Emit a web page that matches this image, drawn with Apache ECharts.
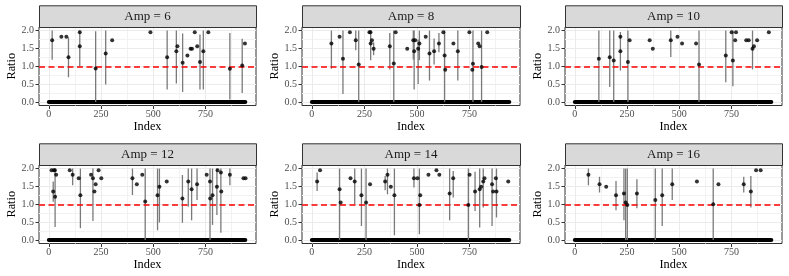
<!DOCTYPE html>
<html>
<head>
<meta charset="utf-8">
<script src="https://cdn.jsdelivr.net/npm/echarts@6/dist/echarts.min.js"></script>
<style>html,body{margin:0;padding:0;background:#fff}#c{width:789px;height:276px}</style>
</head>
<body>
<div id="c"></div>
<script>
// ---------- data ----------
const panelTitles = ['Amp = 6', 'Amp = 8', 'Amp = 10', 'Amp = 12', 'Amp = 14', 'Amp = 16'];
const xTicks = [0, 250, 500, 750];
const xMinorTicks = [125, 375, 625, 875];
const yTicks = [0, 0.5, 1.0, 1.5, 2.0];
const yMinorTicks = [0.25, 0.75, 1.25, 1.75];
const referenceRatio = 1.0;
const zeroIndexRange = [0, 940];   // indices whose ratio is 0

const amp6_index = [16, 60, 84, 94, 148, 148, 224, 272, 303, 486, 566, 610, 615, 640, 663, 678, 685, 698, 710, 723, 739, 763, 866, 925, 938];
const amp6_ratio = [1.73, 1.83, 1.83, 1.25, 1.95, 1.56, 0.94, 1.36, 1.73, 1.95, 1.25, 1.42, 1.56, 1.10, 1.30, 1.49, 1.49, 1.95, 1.56, 1.12, 1.42, 1.95, 0.93, 1.02, 1.64];
const amp6_lo = [1.18, null, null, 0.69, 1.0, null, 0, 0.49, null, null, 0.35, 0.52, null, 0.28, null, null, null, null, null, 0.35, 0.35, null, 0.07, 0.25, null];
const amp6_hi = [2.0, null, null, 1.81, 2.0, null, 1.98, 2.0, null, null, 2.0, 2.0, null, 1.92, null, null, null, null, null, 1.89, 2.0, null, 1.93, 1.77, null];

const amp8_index = [93, 132, 148, 181, 209, 223, 274, 279, 280, 286, 294, 371, 390, 399, 454, 483, 487, 492, 506, 512, 542, 560, 582, 605, 626, 632, 635, 674, 695, 750, 764, 767, 792, 799, 808, 835];
const amp8_ratio = [1.64, 1.83, 1.21, 1.95, 1.73, 1.05, 1.95, 1.95, 1.64, 1.73, 1.49, 1.56, 1.08, 1.95, 1.49, 1.73, 1.42, 1.73, 1.49, 1.64, 1.83, 1.36, 1.42, 1.64, 1.95, 1.30, 0.90, 1.64, 1.42, 1.95, 0.90, 1.07, 1.64, 1.56, 0.98, 1.95];
const amp8_lo = [0.93, null, 0.22, null, 1.45, 0, null, null, 1.17, null, 1.31, 0.91, 0, null, null, 1.19, 0.35, null, 0.5, 1.17, null, 0.6, 1.05, 1.39, null, 0, null, null, 0.6, null, null, 0, null, null, 0, null];
const amp8_hi = [2.0, null, 2.0, null, 2.0, 2.0, null, null, 2.0, null, 1.67, 1.93, 2.0, null, null, 2.0, 2.0, null, 1.75, 2.0, null, 2.0, 1.78, 1.93, null, 2.0, null, null, 2.0, null, null, 2.0, null, null, 2.0, null];

const amp10_index = [115, 167, 186, 218, 218, 254, 262, 358, 373, 459, 491, 513, 580, 594, 722, 750, 756, 767, 771, 820, 832, 850, 857, 872, 928];
const amp10_ratio = [1.21, 1.25, 1.16, 1.83, 1.42, 1.12, 1.73, 1.73, 1.49, 1.73, 1.83, 1.64, 1.64, 1.05, 1.30, 1.95, 1.16, 1.73, 1.95, 1.73, 1.73, 1.49, 1.56, 1.73, 1.95];
const amp10_lo = [0, 0.42, 0, 0.88, null, 0, null, null, null, 1.26, null, null, null, 0, 0.55, null, 0.44, null, null, null, null, 0.91, null, null, null];
const amp10_hi = [2.0, 2.0, 2.0, 1.96, null, 2.0, null, null, null, 2.0, null, null, null, 2.0, 2.0, null, 2.0, null, null, null, null, 2.0, null, null, null];

const amp12_index = [13, 21, 24, 29, 30, 35, 100, 114, 143, 151, 202, 211, 218, 224, 238, 251, 400, 421, 447, 461, 520, 529, 564, 639, 667, 683, 709, 755, 771, 772, 783, 804, 807, 823, 825, 866, 931, 941];
const amp12_ratio = [1.95, 1.36, 1.95, 1.95, 1.21, 1.83, 1.95, 1.83, 1.73, 1.25, 1.83, 1.73, 1.36, 1.56, 1.95, 1.73, 1.73, 1.56, 1.83, 1.08, 1.25, 1.49, 1.64, 1.16, 1.64, 1.42, 1.56, 1.83, 1.64, 1.16, 1.25, 1.49, 1.95, 1.89, 1.36, 1.83, 1.73, 1.73];
const amp12_lo = [null, 1.07, null, null, 0.36, null, null, 1.53, null, 0.33, null, 0.53, null, null, null, null, 1.26, null, null, 0, 0.27, 0.49, null, 0.48, 0.93, 0.55, 1.12, null, 0, null, 0.42, 0.7, null, 0.2, null, 1.53, null, null];
const amp12_hi = [null, 1.64, null, null, 2.0, null, null, 2.0, null, 2.0, null, 2.0, null, null, null, null, 2.0, null, null, 2.0, 2.0, 2.0, null, 1.82, 2.0, 2.0, 2.0, null, 2.0, null, 2.0, 2.0, null, 2.0, null, 2.0, null, null];

const amp14_index = [25, 39, 132, 137, 184, 204, 236, 258, 277, 349, 360, 376, 393, 486, 503, 512, 516, 555, 593, 607, 656, 673, 745, 751, 777, 799, 806, 816, 822, 858, 863, 876, 879, 935];
const amp14_ratio = [1.64, 1.95, 1.42, 1.05, 1.73, 1.64, 1.25, 1.05, 1.56, 1.64, 1.83, 1.49, 1.25, 1.73, 1.73, 0.98, 1.25, 1.83, 1.95, 1.83, 1.30, 1.73, 0.98, 1.83, 1.36, 1.42, 1.49, 1.64, 1.73, 1.56, 1.36, 1.73, 1.36, 1.64];
const amp14_lo = [1.37, null, 0, null, null, 1.0, 0.39, 0, null, 1.39, 1.28, null, 0.13, 1.47, null, 0.16, null, null, null, null, 0.55, 1.19, 0, null, 0.81, 0.35, null, 0.91, null, 0.39, null, null, 0.63, null];
const amp14_hi = [1.89, null, 2.0, null, null, 2.0, 2.0, 2.0, null, 1.79, 2.0, null, 2.0, 2.0, null, 2.0, null, null, null, null, 2.0, 1.93, 2.0, null, 1.91, 2.0, null, 2.0, null, 2.0, null, null, 2.0, null];

const amp16_index = [65, 118, 150, 197, 235, 243, 251, 297, 385, 418, 466, 584, 662, 687, 808, 842, 867, 889];
const amp16_ratio = [1.83, 1.56, 1.49, 1.25, 1.30, 1.05, 0.98, 1.30, 1.12, 1.25, 1.56, 1.64, 1.0, 1.56, 1.56, 1.36, 1.95, 1.95];
const amp16_lo = [1.53, 1.33, null, 0.83, 0.55, 0, 0, 0.89, 0, 0.39, 1.12, null, 0, null, 1.33, 0.91, null, null];
const amp16_hi = [2.0, 1.77, null, 1.65, 2.0, 2.0, 2.0, 1.70, 2.0, 2.0, 2.0, null, 2.0, null, 1.77, 1.79, null, null];

const panels = [
  [amp6_index, amp6_ratio, amp6_lo, amp6_hi],
  [amp8_index, amp8_ratio, amp8_lo, amp8_hi],
  [amp10_index, amp10_ratio, amp10_lo, amp10_hi],
  [amp12_index, amp12_ratio, amp12_lo, amp12_hi],
  [amp14_index, amp14_ratio, amp14_lo, amp14_hi],
  [amp16_index, amp16_ratio, amp16_lo, amp16_hi]
];

// ---------- layout ----------
const FONT = 'Liberation Serif';
const colLeft = [39, 302, 565];
const colWidth = [217, 218, 217];
const rowTop = [27, 165];
const plotH = 78.5;
const stripH = 21.7;
const X_MIN = -47, X_MAX = 991, Y_MIN = -0.1, Y_MAX = 2.1;

const grids = [], xAxes = [], yAxes = [], series = [], graphics = [];

panels.forEach(function (p, i) {
  const r = Math.floor(i / 3), c = i % 3;
  const left = colLeft[c], top = rowTop[r], w = colWidth[c];
  grids.push({left: left, top: top, width: w, height: plotH, show: true,
    borderColor: '#333333', borderWidth: 1, backgroundColor: '#ffffff', containLabel: false});
  xAxes.push({
    gridIndex: i, type: 'value', min: X_MIN, max: X_MAX,
    axisLine: {show: false, onZero: false},
    axisTick: {show: true, customValues: xTicks, length: 3.5, lineStyle: {color: '#333333', width: 1}},
    axisLabel: {show: true, customValues: xTicks, color: '#4D4D4D', fontFamily: FONT, fontSize: 10, margin: 4},
    splitLine: {show: false},
    name: 'Index', nameLocation: 'middle', nameGap: 15,
    nameTextStyle: {color: '#000000', fontFamily: FONT, fontSize: 12.3}
  });
  yAxes.push({
    gridIndex: i, type: 'value', min: Y_MIN, max: Y_MAX,
    axisLine: {show: false, onZero: false},
    axisTick: {show: true, customValues: yTicks, length: 3.5, lineStyle: {color: '#333333', width: 1}},
    axisLabel: {show: true, customValues: yTicks, color: '#4D4D4D', fontFamily: FONT, fontSize: 10, margin: 5,
      formatter: function (v) { return Number(v).toFixed(1); }},
    splitLine: {show: false},
    name: 'Ratio', nameLocation: 'middle', nameGap: 20,
    nameTextStyle: {color: '#000000', fontFamily: FONT, fontSize: 12.3}
  });

  // grid lines (drawn through the axes' scales via markLine)
  const minorStyle = {color: '#F2F2F2', width: 1, type: 'solid'};
  const majorStyle = {color: '#EBEBEB', width: 1, type: 'solid'};
  const gl = [];
  xMinorTicks.forEach(function (v) { gl.push({xAxis: v, lineStyle: minorStyle}); });
  yMinorTicks.forEach(function (v) { gl.push({yAxis: v, lineStyle: minorStyle}); });
  xTicks.forEach(function (v) { gl.push({xAxis: v, lineStyle: majorStyle}); });
  yTicks.forEach(function (v) { gl.push({yAxis: v, lineStyle: majorStyle}); });
  series.push({
    type: 'line', xAxisIndex: i, yAxisIndex: i, data: [[zeroIndexRange[0], 0]], symbol: 'none',
    lineStyle: {width: 0}, silent: true, z: 1, animation: false,
    markLine: {silent: true, symbol: ['none', 'none'], label: {show: false}, animation: false, z: 1,
      lineStyle: {type: 'solid'}, data: gl}
  });

  // zero band: every index with ratio 0
  series.push({
    type: 'line', xAxisIndex: i, yAxisIndex: i,
    data: [[zeroIndexRange[0], 0], [zeroIndexRange[1], 0]],
    symbol: 'none', lineStyle: {color: '#000000', width: 4, cap: 'round'}, z: 2, animation: false, silent: true
  });

  // error bars
  const idx = p[0], ratio = p[1], lo = p[2], hi = p[3];
  const bars = [];
  idx.forEach(function (x, k) { if (lo[k] != null && hi[k] != null) bars.push([x, lo[k], hi[k]]); });
  series.push({
    type: 'custom', xAxisIndex: i, yAxisIndex: i, data: bars, z: 3, animation: false, silent: true,
    encode: {x: 0, y: [1, 2]},
    renderItem: function (params, api) {
      const a = api.coord([api.value(0), api.value(1)]);
      const b = api.coord([api.value(0), api.value(2)]);
      return {type: 'line', shape: {x1: a[0], y1: a[1], x2: b[0], y2: b[1]},
        style: {stroke: '#7A7A7A', lineWidth: 1.3}};
    }
  });

  // reference line at ratio 1
  series.push({
    type: 'line', xAxisIndex: i, yAxisIndex: i, data: [], symbol: 'none', z: 4, silent: true, animation: false,
    markLine: {silent: true, symbol: ['none', 'none'], label: {show: false}, animation: false, z: 4,
      lineStyle: {color: '#FF0000', width: 1.5, type: [6, 3.5]}, data: [{yAxis: referenceRatio}]}
  });

  // points
  series.push({
    type: 'scatter', xAxisIndex: i, yAxisIndex: i, symbol: 'circle', symbolSize: 4,
    itemStyle: {color: '#000000'}, z: 5, animation: false, silent: true,
    data: idx.map(function (x, k) { return [x, ratio[k]]; })
  });

  // facet strip
  graphics.push({
    type: 'rect', left: left, top: top - stripH, z: 10,
    shape: {width: w, height: stripH},
    style: {fill: '#D9D9D9', stroke: '#333333', lineWidth: 1}
  });
  graphics.push({
    type: 'text', x: left + w / 2, y: top - stripH / 2, z: 11,
    style: {text: panelTitles[i], fill: '#1A1A1A', font: '13px "' + FONT + '"', align: 'center', verticalAlign: 'middle'}
  });
});

const chart = echarts.init(document.getElementById('c'), null, {renderer: 'canvas'});
chart.setOption({
  animation: false,
  backgroundColor: '#ffffff',
  grid: grids, xAxis: xAxes, yAxis: yAxes, series: series, graphic: graphics
});
</script>
</body>
</html>
